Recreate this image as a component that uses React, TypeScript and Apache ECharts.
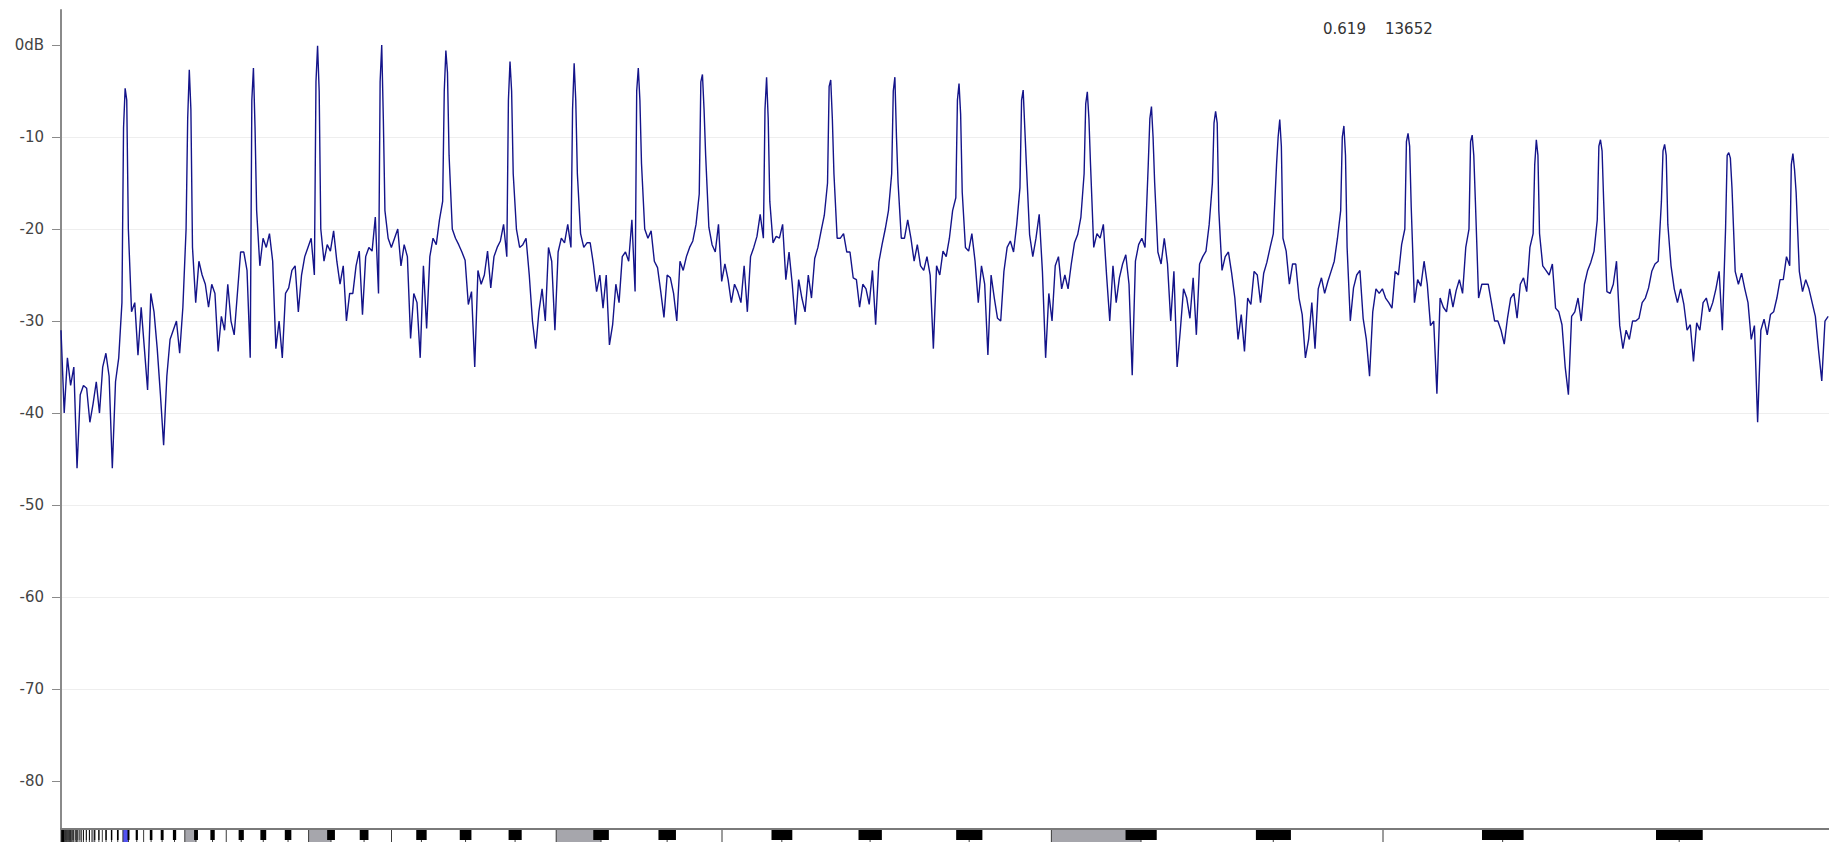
import React, { useEffect, useRef } from 'react';
import * as echarts from 'echarts';

// ---- axes ----
const Y_MIN = -85.2;
const Y_MAX = 3.8;
const Y_TICKS = [0, -10, -20, -30, -40, -50, -60, -70, -80];
const X_MAX_HZ = 3630;
const FUNDAMENTAL_HZ = 131.7;
const BINS_PER_HARMONIC = 20;
const BIN_HZ = FUNDAMENTAL_HZ / BINS_PER_HARMONIC;

// ---- readout text ----
const READOUT = ['0.619', '13652'];

// ---- spectrum (dB), one value per bin of BIN_HZ, starting at 0 Hz ----
const SPECTRUM_DB = [
  -31, -40, -34, -37, -35, -46, -38, -37, -37.3, -41, -39, -36.6, -40, -35, -33.5, -36, -46, -36.6, -34, -28,
  -4.7, -20, -29, -28, -33.7, -28.5, -33, -37.5, -27, -29, -33, -38, -43.5, -36, -32, -31, -30, -33.5, -28.5, -20,
  -2.7, -22, -28, -23.5, -25, -26, -28.5, -26, -27, -33.3, -29.5, -31, -26, -30, -31.5, -27, -22.5, -22.5, -24.5, -34,
  -2.5, -18, -24, -21, -22, -20.5, -23.5, -33, -30, -34, -27, -26.4, -24.5, -24, -29, -25, -23, -22, -21, -25,
  -0.1, -20, -23.5, -21.7, -22.4, -20.2, -23.5, -26, -24, -30, -27, -27, -24, -22.4, -29.3, -23, -22, -22.4, -18.7, -27,
  0, -18, -21, -22, -21, -20, -24, -21.7, -23, -31.9, -27, -28, -34, -24, -30.8, -23, -21, -21.7, -19, -17,
  -0.6, -12, -20, -21, -21.7, -22.5, -23.4, -28.2, -26.8, -35, -24.5, -26, -25, -22.4, -26.4, -23, -22, -21.3, -19.5, -23,
  -1.8, -14, -20, -22, -21.7, -21, -25, -30, -33, -29, -26.5, -30, -22, -23.5, -31, -22.5, -21, -21.5, -19.5, -22,
  -2.0, -14, -20.5, -22, -21.5, -21.5, -23.8, -26.8, -25, -28.6, -25, -32.6, -30.4, -26, -28, -23, -22.5, -23.5, -19, -26.8,
  -2.5, -12.9, -20, -21, -20.2, -23.5, -24.2, -26.8, -29.6, -25, -25.3, -27, -30, -23.5, -24.5, -23, -22, -21.3, -19.5, -16.2,
  -3.2, -12, -19.8, -21.7, -22.5, -19.5, -25.7, -23.8, -25.5, -28, -26, -26.8, -28, -24, -29, -23, -22, -20.8, -18.4, -21,
  -3.5, -17, -21.5, -20.8, -21, -19.5, -25.5, -22.5, -26, -30.4, -25.5, -27.5, -29, -25, -27.5, -23.2, -22, -20.2, -18.5, -15,
  -3.8, -14, -21, -21, -20.5, -22.5, -22.5, -25.3, -25.5, -28.5, -26, -26.5, -28.2, -24.5, -30.4, -23.6, -21.7, -20, -18, -14,
  -3.5, -15, -21, -21, -19, -21, -23.5, -21.7, -24, -24.5, -23, -25, -33, -24, -25, -22.4, -23, -21, -18, -16.6,
  -4.2, -16, -22, -22.4, -20.5, -23.5, -28, -24, -26, -33.7, -25, -27.5, -29.7, -30, -24.6, -22, -21.3, -22.5, -19.5, -15.5,
  -4.9, -13, -20.6, -23, -21, -18.4, -24.6, -34, -27, -30, -24, -23, -26.5, -25, -26.5, -23.8, -21.5, -20.6, -18.7, -14,
  -5.1, -13, -22, -20.5, -21, -19.5, -25, -30, -24, -28, -25.3, -23.8, -22.8, -26, -35.9, -23.5, -21.7, -21, -22, -13,
  -6.7, -15, -22.5, -23.8, -21, -23.8, -30, -24.6, -35, -31, -26.5, -27.5, -29.7, -25.3, -31.5, -23.8, -23, -22.4, -19.5, -15,
  -7.2, -18, -24.5, -23, -22.5, -24.8, -27.5, -32, -29.3, -33.3, -27.5, -28.2, -24.6, -25, -28, -24.8, -23.6, -22, -20.5, -13,
  -8.1, -21, -22.4, -26, -23.8, -23.8, -27.5, -29.3, -34, -32, -28, -33, -26.5, -25.3, -27, -25.7, -24.6, -23.5, -21, -18,
  -8.8, -22, -30, -26.4, -25, -24.5, -29.7, -32, -36, -29, -26.5, -27, -26.5, -27.5, -28, -28.6, -24.6, -25, -21.7, -20,
  -9.6, -17.7, -28, -25.5, -26.2, -23.5, -26, -30.5, -30, -37.9, -27.5, -28.5, -29, -26.5, -28.5, -26.7, -25.5, -27, -22, -20,
  -9.8, -17, -27.5, -26, -26, -26, -28, -30, -30, -31, -32.5, -29.7, -27.5, -27, -29.7, -26, -25.3, -26.8, -22, -20.5,
  -10.3, -20.5, -24, -24.5, -25, -23.8, -28.6, -29, -30.4, -35, -38, -29.5, -29, -27.5, -30, -26, -24.5, -23.6, -22.4, -19,
  -10.3, -17, -26.8, -27, -26, -23.5, -30.5, -33, -31, -32, -30, -30, -29.7, -28, -27.5, -26.4, -24.6, -23.8, -23.5, -17,
  -10.8, -19.5, -24, -26.5, -28, -26.5, -28.2, -31, -30.4, -34.4, -30.2, -31, -28, -27.5, -29, -28, -26.5, -24.6, -31, -20,
  -11.7, -15.5, -24.6, -26, -24.8, -26.5, -28, -32, -30.5, -41, -31, -29.8, -31.5, -29.3, -29, -27.5, -25.5, -25.5, -23, -24,
  -11.8, -16, -24.6, -26.8, -25.5, -26.5, -28, -29.5, -33.2, -36.5, -30, -29.5,
];

// ---- values half a bin either side of each harmonic peak (harmonics 1..27) ----
const PEAK_LEFT_DB = [-9, -8, -6, -4, -4, -5, -6, -7, -5, -4, -7, -4.5, -5, -6, -6, -6.4, -8, -8.5, -10, -10, -10.5, -10.5, -13, -11, -11.5, -12, -13];
const PEAK_RIGHT_DB = [-6, -7, -9, -5, -8, -3, -5, -6, -6, -7, -8, -8, -10, -7.5, -9, -8, -10, -8.5, -11, -12, -11, -12, -12, -11.5, -12, -12.3, -13.5];

// ---- piano keyboard ----
const NOTE_IS_BLACK = [false, true, false, true, false, false, true, false, true, false, true, false];
const KEY_MIDI_LOW = 0;
const KEY_MIDI_HIGH = 107;
const ACTIVE_MIDI = 48;

const midiHz = (m: number) => 440 * Math.pow(2, (m - 69) / 12);

function buildSpectrum() {
  const out: number[][] = [];
  SPECTRUM_DB.forEach((db, i) => {
    const h = i / BINS_PER_HARMONIC;
    if (i > 0 && i % BINS_PER_HARMONIC === 0 && PEAK_LEFT_DB[h - 1] !== undefined) {
      out.push([(i - 0.5) * BIN_HZ, PEAK_LEFT_DB[h - 1]]);
      out.push([i * BIN_HZ, db]);
      out.push([(i + 0.5) * BIN_HZ, PEAK_RIGHT_DB[h - 1]]);
    } else {
      out.push([i * BIN_HZ, db]);
    }
  });
  return out;
}

function buildKeys() {
  const white: number[][] = [[0, midiHz(KEY_MIDI_LOW - 0.5), 3]];
  const black: number[][] = [];
  for (let m = KEY_MIDI_LOW; m <= KEY_MIDI_HIGH; m++) {
    const pc = m % 12;
    if (NOTE_IS_BLACK[pc]) {
      black.push([midiHz(m - 0.25), midiHz(m + 0.25)]);
    } else {
      const lo = NOTE_IS_BLACK[(pc + 11) % 12] ? m - 1 : m - 0.5;
      const hi = NOTE_IS_BLACK[(pc + 1) % 12] ? m + 1 : m + 0.5;
      const kind = m === ACTIVE_MIDI ? 2 : pc === 0 ? 1 : 0;
      white.push([midiHz(lo), midiHz(hi), kind]);
    }
  }
  return { white, black };
}

export default function App() {
  const ref = useRef<HTMLDivElement>(null);
  useEffect(() => {
    if (!ref.current) return;
    const chart = echarts.init(ref.current, undefined, { renderer: 'svg' });
    const keys = buildKeys();
    const font = 'DejaVu Sans';
    chart.setOption({
      animation: false,
      grid: { left: 61, right: 0, top: 10, bottom: 13, containLabel: false },
      xAxis: {
        type: 'value',
        min: 0,
        max: X_MAX_HZ,
        axisLine: { show: true, onZero: false, lineStyle: { color: '#7a7a7a', width: 2 } },
        axisTick: { show: false },
        axisLabel: { show: false },
        splitLine: { show: false },
      },
      yAxis: {
        type: 'value',
        min: Y_MIN,
        max: Y_MAX,
        splitNumber: 9,
        axisLine: { show: true, onZero: false, lineStyle: { color: '#8a8a8a', width: 2 } },
        axisTick: { show: true, length: 9, customValues: Y_TICKS, lineStyle: { color: '#8a8a8a', width: 1 } },
        axisLabel: {
          customValues: Y_TICKS,
          margin: 17,
          color: '#444',
          fontFamily: font,
          fontSize: 15,
          formatter: (v: number) => {
            if (Math.abs(v % 10) > 1e-6) return '';
            return v === 0 ? '0dB' : String(v);
          },
        },
        splitLine: { show: true, showMinLine: false, showMaxLine: false, lineStyle: { color: '#eeeeee', width: 1 } },
      },
      graphic: [
        { type: 'text', x: 1323, y: 29, style: { text: READOUT[0], font: `15px "${font}"`, fill: '#333', align: 'left', verticalAlign: 'middle' } },
        { type: 'text', x: 1385, y: 29, style: { text: READOUT[1], font: `15px "${font}"`, fill: '#333', align: 'left', verticalAlign: 'middle' } },
      ],
      series: [
        {
          type: 'line',
          data: buildSpectrum(),
          showSymbol: false,
          symbol: 'none',
          lineStyle: { color: '#14148a', width: 1.4 },
          clip: true,
          silent: true,
          z: 3,
        },
        {
          type: 'custom',
          data: keys.white,
          silent: true,
          clip: false,
          z: 1,
          renderItem: (_p: any, api: any) => {
            const a = api.coord([api.value(0), Y_MIN]);
            const b = api.coord([api.value(1), Y_MIN]);
            const y = a[1] + 1;
            const kind = api.value(2);
            const fill = kind === 1 ? '#a6a6ac' : kind === 2 ? '#5252f2' : kind === 3 ? '#000' : '#fff';
            return {
              type: 'group',
              children: [
                { type: 'rect', shape: { x: a[0], y, width: Math.max(0, b[0] - a[0]), height: 40 }, style: { fill } },
                { type: 'line', shape: { x1: a[0], y1: y, x2: a[0], y2: y + 40 }, style: { stroke: '#3a3a3a', lineWidth: 1 } },
              ],
            };
          },
        },
        {
          type: 'custom',
          data: keys.black,
          silent: true,
          clip: false,
          z: 2,
          renderItem: (_p: any, api: any) => {
            const a = api.coord([api.value(0), Y_MIN]);
            const b = api.coord([api.value(1), Y_MIN]);
            const y = a[1] + 1;
            return { type: 'rect', shape: { x: a[0], y, width: Math.max(0, b[0] - a[0]), height: 10 }, style: { fill: '#000' } };
          },
        },
      ],
    });
    return () => chart.dispose();
  }, []);
  return <div ref={ref} style={{ position: 'fixed', left: 0, top: 0, width: 1829, height: 842, background: '#fff' }} />;
}
